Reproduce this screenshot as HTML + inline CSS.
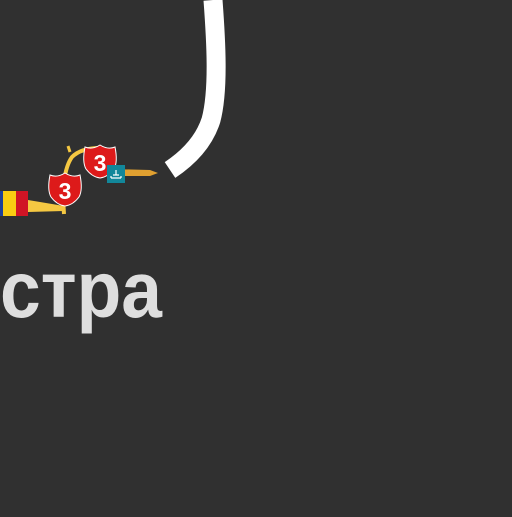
<!DOCTYPE html>
<html><head><meta charset="utf-8"><style>html,body{margin:0;padding:0;background:#303030;overflow:hidden}</style></head>
<body>
<svg width="512" height="512" viewBox="0 0 512 512" xmlns="http://www.w3.org/2000/svg">
<rect width="512" height="512" fill="#303030"/>
<path d="M213,0 C216,40 219,90 211,120 C204,142 188,158 170,170" fill="none" stroke="#ffffff" stroke-width="19"/>
<path d="M28,200 L64,206 L64,211 L28,212 Z" fill="#f5c842"/>
<path d="M64,214 C62,190 64,168 72,157 C78,151 88,148 100,148" fill="none" stroke="#f5c842" stroke-width="4"/>
<path d="M70,152 L68,146" stroke="#f5c842" stroke-width="3"/>
<path d="M110,169 L150,170 L158,173 L150,176 L110,176 Z" fill="#e0a030"/>
<g>
<rect x="0" y="191" width="3" height="25" fill="#1d3f9a"/>
<rect x="3" y="191" width="13" height="25" fill="#f9cc12"/>
<rect x="16" y="191" width="12" height="25" fill="#d01425"/>
</g>
<g>
<path d="M50,175 Q57,178 65,173 Q73,178 80,175 Q83,190 79,197 Q73,205 65,206 Q57,205 51,197 Q47,190 50,175 Z" fill="#dd1a1a" stroke="#fff" stroke-width="1"/>
<text x="65" y="199" text-anchor="middle" font-family="Liberation Sans Narrow, Liberation Sans, sans-serif" font-weight="bold" font-size="23" fill="#fff">3</text>
</g>
<g>
<path d="M85,147 Q92,150 100,145 Q108,150 115,147 Q118,162 114,169 Q108,177 100,178 Q92,177 86,169 Q82,162 85,147 Z" fill="#dd1a1a" stroke="#fff" stroke-width="1"/>
<text x="100" y="171" text-anchor="middle" font-family="Liberation Sans Narrow, Liberation Sans, sans-serif" font-weight="bold" font-size="23" fill="#fff">3</text>
</g>
<g>
<rect x="107" y="165" width="18" height="18" fill="#12879a"/>
<path d="M111,178 L121,178 M113,175 L119,175 M116,170 L116,175 M111,176 L111,178 M121,176 L121,178" stroke="#fff" stroke-width="1.2"/>
</g>
<text x="0" y="317" textLength="162" lengthAdjust="spacingAndGlyphs" font-family="Liberation Sans, sans-serif" font-weight="bold" font-size="80" fill="#dedede">стра</text>
</svg>
</body></html>
